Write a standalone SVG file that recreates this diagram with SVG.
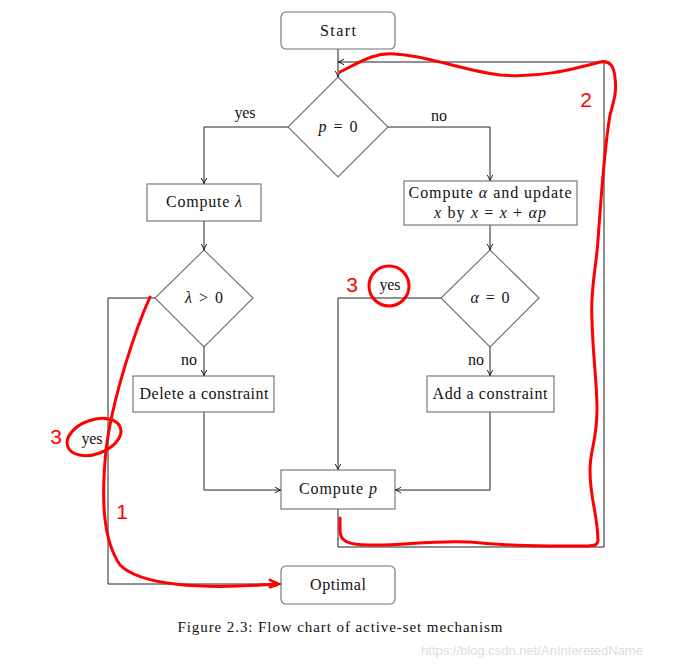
<svg xmlns="http://www.w3.org/2000/svg" width="673" height="664" viewBox="0 0 673 664">
<style>
.n{fill:#fff;stroke:#6e6e6e;stroke-width:1.1}
.t{font-family:"Liberation Serif","DejaVu Serif",serif;font-size:16px;fill:#111;text-anchor:middle}
.i{font-style:italic}
.c{fill:none;stroke:#222;stroke-width:1}
.r{fill:none;stroke:#f00;stroke-width:3;stroke-linecap:round;stroke-linejoin:round}
.rt{font-family:"Liberation Sans",Arial,sans-serif;font-size:21px;fill:#f00;text-anchor:middle}
</style>
<defs>
<marker id="a" markerWidth="8" markerHeight="8" refX="7" refY="4" orient="auto" markerUnits="userSpaceOnUse">
<path d="M1,1.2 Q4,3.3 7,4 Q4,4.7 1,6.8" fill="none" stroke="#222" stroke-width="1"/>
</marker>
</defs>
<rect width="673" height="664" fill="#fff"/>
<g id="connectors">
<path class="c" d="M338,49 V77" marker-end="url(#a)"/>
<path class="c" d="M288,127 H204 V184" marker-end="url(#a)"/>
<path class="c" d="M388,127 H490 V181" marker-end="url(#a)"/>
<path class="c" d="M204,221 V250" marker-end="url(#a)"/>
<path class="c" d="M490,225 V250" marker-end="url(#a)"/>
<path class="c" d="M155,298 H108 V584 H281" marker-end="url(#a)"/>
<path class="c" d="M204,347 V376" marker-end="url(#a)"/>
<path class="c" d="M441,298 H338 V470" marker-end="url(#a)"/>
<path class="c" d="M490,347 V376" marker-end="url(#a)"/>
<path class="c" d="M204,412 V490 H281" marker-end="url(#a)"/>
<path class="c" d="M490,412 V490 H395" marker-end="url(#a)"/>
<path class="c" d="M338,509 V547 H604 V62 H338" marker-end="url(#a)"/>
<text class="t" x="245" y="118" textLength="21">yes</text>
<text class="t" x="439" y="121" textLength="16">no</text>
<text class="t" x="189" y="365" textLength="16">no</text>
<text class="t" x="476" y="365" textLength="16">no</text>
<text class="t" x="390" y="290" textLength="21">yes</text>
<text class="t" x="92" y="444" textLength="21">yes</text>
</g>
<g id="start"><rect class="n" x="281" y="12" width="114" height="37" rx="5"/><text class="t" x="338" y="36" textLength="36">Start</text></g>
<g id="p0"><path class="n" d="M338,77 L388,127 L338,177 L288,127 Z"/><text class="t" x="338" y="132" textLength="39"><tspan class="i">p</tspan> = 0</text></g>
<g id="lambda"><rect class="n" x="147" y="184" width="114" height="37"/><text class="t" x="204" y="207" textLength="76">Compute <tspan class="i">λ</tspan></text></g>
<g id="alpha"><rect class="n" x="404" y="181" width="173" height="44"/><text class="t" x="490" y="198" textLength="163">Compute <tspan class="i">α</tspan> and update</text><text class="t" x="490" y="218" textLength="112"><tspan class="i">x</tspan> by <tspan class="i">x</tspan> = <tspan class="i">x</tspan> + <tspan class="i">αp</tspan></text></g>
<g id="lgt0"><path class="n" d="M204,250 L253,298 L204,347 L155,298 Z"/><text class="t" x="204" y="303" textLength="38"><tspan class="i">λ</tspan> &gt; 0</text></g>
<g id="aeq0"><path class="n" d="M490,250 L539,298 L490,347 L441,298 Z"/><text class="t" x="490" y="303" textLength="39"><tspan class="i">α</tspan> = 0</text></g>
<g id="delete"><rect class="n" x="133" y="376" width="141" height="36"/><text class="t" x="204" y="399" textLength="129">Delete a constraint</text></g>
<g id="add"><rect class="n" x="427" y="376" width="127" height="36"/><text class="t" x="490" y="399" textLength="115">Add a constraint</text></g>
<g id="computep"><rect class="n" x="281" y="470" width="114" height="39"/><text class="t" x="338" y="494" textLength="78">Compute <tspan class="i">p</tspan></text></g>
<g id="optimal"><rect class="n" x="281" y="566" width="114" height="38" rx="5"/><text class="t" x="338" y="590" textLength="56">Optimal</text></g>
<text class="t" x="340" y="632" style="font-size:15px" textLength="325">Figure 2.3: Flow chart of active-set mechanism</text>
<text x="532" y="655" style="font-family:'Liberation Sans',Arial,sans-serif;font-size:13px;fill:#dcdcdc;text-anchor:middle">https://blog.csdn.net/AnInteretedName</text>
<g id="annotations">
<path class="r" d="M150,297 C135,330 112,400 106,450 C101,500 103,540 120,565 C140,585 200,590 276,584"/>
<path class="r" d="M270,580 L278,584 L270,587"/>
<ellipse class="r" cx="94" cy="437" rx="28" ry="17" transform="rotate(-20 94 437)"/>
<circle class="r" cx="389" cy="286" r="20"/>
<path class="r" d="M340,72 C360,62 375,52 395,54 C430,56 460,70 500,75 C540,78 570,70 600,62 C610,60 614,66 615,78 C617,92 614,100 610,115 C604,150 601,200 598,240 C596,270 590,290 592,320 C593,360 597,380 597,410 C597,440 590,450 590,470 C590,500 597,510 598,540 C598,546 592,546 585,546 C540,546 510,546 470,542 C430,540 400,546 370,545 C345,545 340,540 340,530 L340,518"/>
<text class="rt" x="122" y="519">1</text>
<text class="rt" x="586" y="107">2</text>
<text class="rt" x="56" y="444">3</text>
<text class="rt" x="352" y="292">3</text>
</g>
</svg>
